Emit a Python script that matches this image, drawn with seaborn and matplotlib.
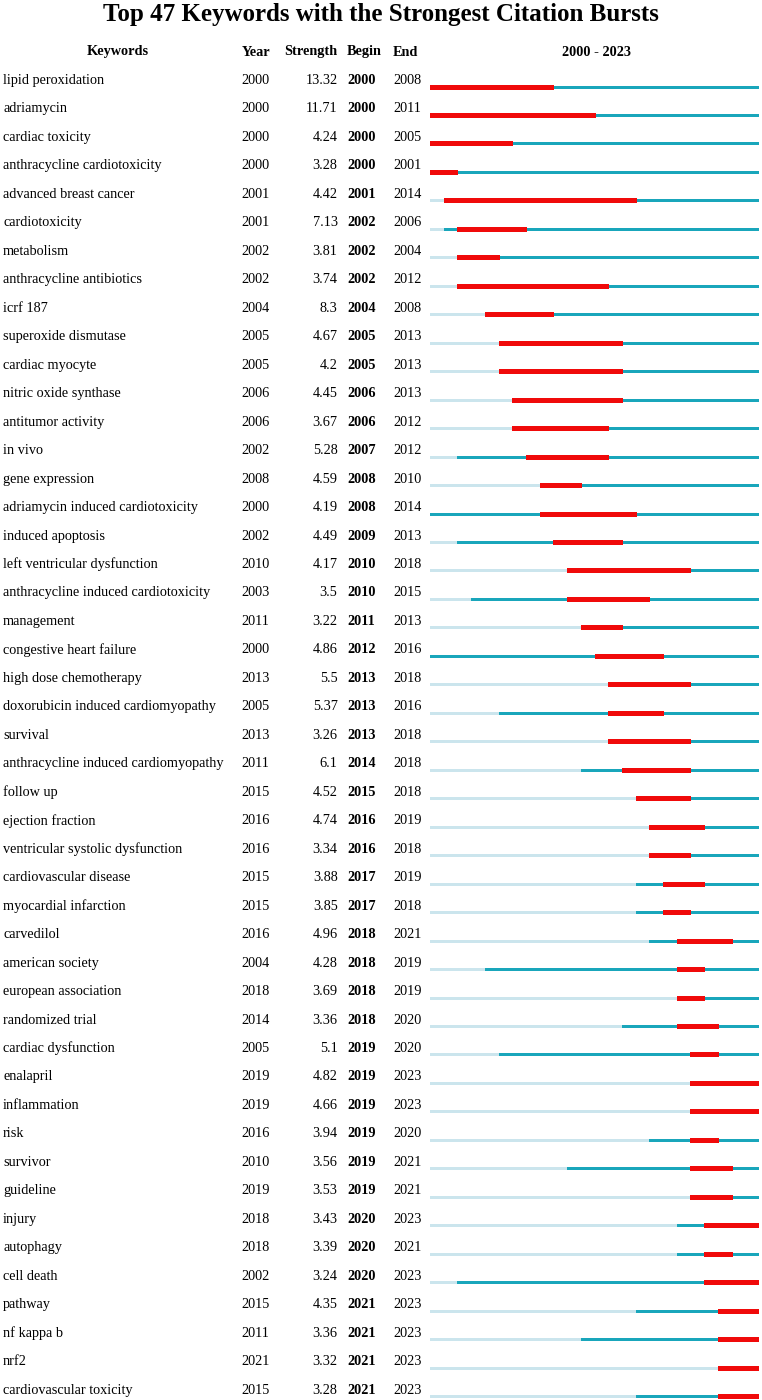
import matplotlib
matplotlib.use("Agg")
import matplotlib.pyplot as plt
import matplotlib.transforms as mtransforms
import seaborn as sns

keywords = [
    "lipid peroxidation", "adriamycin", "cardiac toxicity", "anthracycline cardiotoxicity",
    "advanced breast cancer", "cardiotoxicity", "metabolism", "anthracycline antibiotics",
    "icrf 187", "superoxide dismutase", "cardiac myocyte", "nitric oxide synthase",
    "antitumor activity", "in vivo", "gene expression", "adriamycin induced cardiotoxicity",
    "induced apoptosis", "left ventricular dysfunction", "anthracycline induced cardiotoxicity",
    "management", "congestive heart failure", "high dose chemotherapy",
    "doxorubicin induced cardiomyopathy", "survival", "anthracycline induced cardiomyopathy",
    "follow up", "ejection fraction", "ventricular systolic dysfunction", "cardiovascular disease",
    "myocardial infarction", "carvedilol", "american society", "european association",
    "randomized trial", "cardiac dysfunction", "enalapril", "inflammation", "risk", "survivor",
    "guideline", "injury", "autophagy", "cell death", "pathway", "nf kappa b", "nrf2",
    "cardiovascular toxicity",
]
years = [2000, 2000, 2000, 2000, 2001, 2001, 2002, 2002, 2004, 2005, 2005, 2006, 2006, 2002,
         2008, 2000, 2002, 2010, 2003, 2011, 2000, 2013, 2005, 2013, 2011, 2015, 2016, 2016,
         2015, 2015, 2016, 2004, 2018, 2014, 2005, 2019, 2019, 2016, 2010, 2019, 2018, 2018,
         2002, 2015, 2011, 2021, 2015]
strengths = [13.32, 11.71, 4.24, 3.28, 4.42, 7.13, 3.81, 3.74, 8.3, 4.67, 4.2, 4.45, 3.67, 5.28,
             4.59, 4.19, 4.49, 4.17, 3.5, 3.22, 4.86, 5.5, 5.37, 3.26, 6.1, 4.52, 4.74, 3.34,
             3.88, 3.85, 4.96, 4.28, 3.69, 3.36, 5.1, 4.82, 4.66, 3.94, 3.56, 3.53, 3.43, 3.39,
             3.24, 4.35, 3.36, 3.32, 3.28]
begins = [2000, 2000, 2000, 2000, 2001, 2002, 2002, 2002, 2004, 2005, 2005, 2006, 2006, 2007,
          2008, 2008, 2009, 2010, 2010, 2011, 2012, 2013, 2013, 2013, 2014, 2015, 2016, 2016,
          2017, 2017, 2018, 2018, 2018, 2018, 2019, 2019, 2019, 2019, 2019, 2019, 2020, 2020,
          2020, 2021, 2021, 2021, 2021]
ends = [2008, 2011, 2005, 2001, 2014, 2006, 2004, 2012, 2008, 2013, 2013, 2013, 2012, 2012,
        2010, 2014, 2013, 2018, 2015, 2013, 2016, 2018, 2016, 2018, 2018, 2018, 2019, 2018,
        2019, 2018, 2021, 2019, 2019, 2020, 2020, 2023, 2023, 2020, 2021, 2021, 2023, 2021,
        2023, 2023, 2023, 2023, 2023]
start_year, end_year = 2000, 2023

sns.set_theme(style="white")
plt.rcParams["font.family"] = ["Liberation Serif", "DejaVu Serif"]
plt.rcParams["text.color"] = "black"

W, H = 762, 1400
fig = plt.figure(figsize=(W / 100, H / 100), dpi=100)
fig.patch.set_facecolor("white")

row0, pitch, bar_off = 80.5, 28.47, 6.0
ax = fig.add_axes([430 / W, 0, 329 / W, 1])
ax.set_xlim(start_year, end_year + 1)
ax.set_ylim((H - row0 - bar_off) / pitch, -(row0 + bar_off) / pitch)
ax.axis("off")

RED = "#f00a0a"
TEAL = "#19a6bb"
LIGHT = "#cbe5ed"

n = len(keywords)
for i in range(n):
    yr, b, e = years[i], begins[i], ends[i]
    if yr > start_year:
        ax.hlines(i, start_year, yr, color=LIGHT, lw=2.0, capstyle="butt", zorder=1,
                  antialiased=False)
    ax.hlines(i, yr, end_year + 1, color=TEAL, lw=2.0, capstyle="butt", zorder=2,
              antialiased=False)
    ax.hlines(i, b, e + 1, color=RED, lw=3.5, capstyle="butt", zorder=3, antialiased=False)

trans = mtransforms.blended_transform_factory(fig.transFigure, ax.transData)
fs = 10.3
toff = bar_off / pitch
for i in range(n):
    yy = i - toff
    ax.text(3 / W, yy, keywords[i], transform=trans, fontsize=fs, va="center", ha="left",
            color="black")
    ax.text(241 / W, yy, str(years[i]), transform=trans, fontsize=fs, va="center", ha="left",
            color="black")
    ax.text(337.5 / W, yy, f"{strengths[i]:g}", transform=trans, fontsize=fs, va="center",
            ha="right", color="black")
    ax.text(347 / W, yy, str(begins[i]), transform=trans, fontsize=fs, va="center", ha="left",
            fontweight="bold", color="black")
    ax.text(393 / W, yy, str(ends[i]), transform=trans, fontsize=fs, va="center", ha="left",
            color="black")

hy = 1 - 52 / H
kw = dict(fontsize=fs, fontweight="bold", va="center", color="black")
fig.text(118 / W, hy, "Keywords", ha="center", **kw)
fig.text(242 / W, hy, "Year", ha="left", **kw)
fig.text(337.5 / W, hy, "Strength", ha="right", **kw)
fig.text(347 / W, hy, "Begin", ha="left", **kw)
fig.text(393 / W, hy, "End", ha="left", **kw)
fig.text(596 / W, hy, f"{start_year} - {end_year}", ha="center", **kw)

fig.text(0.5, 1 - 15 / H, f"Top {n} Keywords with the Strongest Citation Bursts",
         fontsize=18, fontweight="bold", ha="center", va="center", color="black")

fig.savefig("out.png", dpi=100, facecolor="white")
